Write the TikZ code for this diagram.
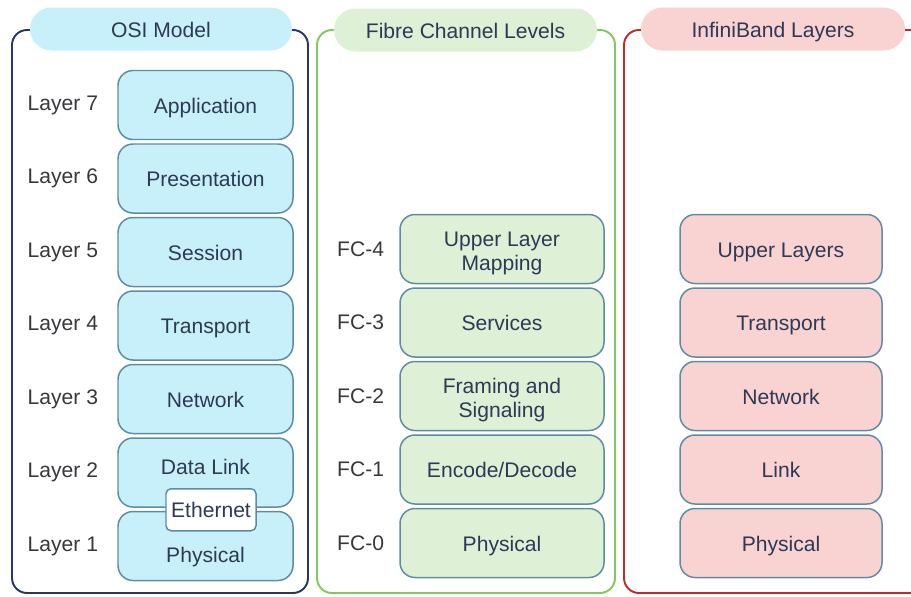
\documentclass[tikz,border=0pt]{standalone}
\usepackage{fontspec}
\setmainfont{Liberation Sans}
\usetikzlibrary{positioning}
\definecolor{ink}{RGB}{45,58,85}
\definecolor{labelink}{RGB}{55,55,60}
\definecolor{boxline}{RGB}{95,140,165}
\definecolor{osifill}{RGB}{200,240,250}
\definecolor{fcfill}{RGB}{222,240,214}
\definecolor{ibfill}{RGB}{249,210,210}
\definecolor{osiline}{RGB}{40,55,95}
\definecolor{fcline}{RGB}{130,200,95}
\definecolor{ibline}{RGB}{190,45,45}
\tikzstyle{layer} = [rectangle, rounded corners=0.3cm, minimum height=1.38cm, align=center, draw=boxline, line width=0.85pt, text=ink, font=\fontsize{12}{14}\selectfont]
\tikzstyle{oneline} = [text height=0.40cm, text depth=0.08cm]
\tikzstyle{osibox} = [layer, oneline, minimum width=3.5cm, fill=osifill]
\tikzstyle{fctwo} = [layer, minimum width=4.08cm, fill=fcfill]
\tikzstyle{fcbox} = [fctwo, oneline]
\tikzstyle{ibbox} = [layer, oneline, minimum width=4.04cm, fill=ibfill]
\tikzstyle{ethbox} = [rectangle, rounded corners=0.1cm, minimum width=1.8cm, minimum height=0.84cm, inner sep=1pt, draw=boxline, line width=0.85pt, fill=white, text=ink, font=\fontsize{12}{14}\selectfont]
\tikzstyle{num} = [text=labelink, font=\fontsize{12}{14}\selectfont]
\tikzstyle{header} = [rectangle, rounded corners=0.43cm, minimum height=0.86cm, oneline, text=ink, font=\fontsize{12}{14}\selectfont]
\tikzstyle{panel} = [rounded corners=0.3cm, line width=1.1pt]

\begin{document}
\begin{tikzpicture}[node distance=1.47cm]
	\useasboundingbox (0,0) rectangle (18.22,-11.92);

	% panels
	\draw [panel, draw=osiline] (0.24,-0.6) rectangle (6.16,-11.86);
	\draw [panel, draw=fcline] (6.34,-0.6) rectangle (12.3,-11.86);
	\draw [panel, draw=ibline] (12.48,-0.6) rectangle (18.7,-11.86);

	\node (osihead) [header, minimum width=5.24cm, fill=osifill] at (3.22,-0.58) {OSI Model};
	\node (fchead) [header, minimum width=5.26cm, fill=fcfill] at (9.31,-0.6) {Fibre Channel Levels};
	\node (ibhead) [header, minimum width=5.28cm, fill=ibfill] at (15.46,-0.58) {InfiniBand Layers};

	% OSI
	\node (app) [osibox] at (4.11,-2.1) {Application};
	\node (pres) [osibox, below of=app] {Presentation};
	\node (sess) [osibox, below of=pres] {Session};
	\node (trans) [osibox, below of=sess] {Transport};
	\node (net) [osibox, below of=trans] {Network};
	\node (dlink) [osibox, below of=net, text depth=0.32cm] {Data Link};
	\node (phys) [osibox, below of=dlink, text height=0.74cm] {Physical};
	\node (eth) [ethbox, xshift=0.11cm, yshift=-0.04cm] at (dlink.south) {Ethernet};

	\node (l7) [num, left=0.26cm of app] {Layer 7};
	\node (l6) [num, left=0.26cm of pres] {Layer 6};
	\node (l5) [num, left=0.26cm of sess] {Layer 5};
	\node (l4) [num, left=0.26cm of trans] {Layer 4};
	\node (l3) [num, left=0.26cm of net] {Layer 3};
	\node (l2) [num, left=0.26cm of dlink] {Layer 2};
	\node (l1) [num, left=0.26cm of phys] {Layer 1};

	% Fibre Channel
	\node (fcfour) [fctwo] at (10.04,-4.98) {\rule{0pt}{0.47cm}Upper Layer\\Mapping};
	\node (fcthree) [fcbox, below of=fcfour] {Services};
	\node (fcframe) [fctwo, below of=fcthree] {\rule{0pt}{0.47cm}Framing and\\Signaling};
	\node (fcone) [fcbox, below of=fcframe] {Encode/Decode};
	\node (fczero) [fcbox, below of=fcone] {Physical};

	\node (n4) [num, left=0.18cm of fcfour] {FC-4};
	\node (n3) [num, left=0.18cm of fcthree] {FC-3};
	\node (n2) [num, left=0.18cm of fcframe] {FC-2};
	\node (n1) [num, left=0.18cm of fcone] {FC-1};
	\node (n0) [num, left=0.18cm of fczero] {FC-0};

	% InfiniBand
	\node (ibupper) [ibbox] at (15.62,-4.98) {Upper Layers};
	\node (ibtrans) [ibbox, below of=ibupper] {Transport};
	\node (ibnet) [ibbox, below of=ibtrans] {Network};
	\node (iblink) [ibbox, below of=ibnet] {Link};
	\node (ibphys) [ibbox, below of=iblink] {Physical};

\end{tikzpicture}
\end{document}
